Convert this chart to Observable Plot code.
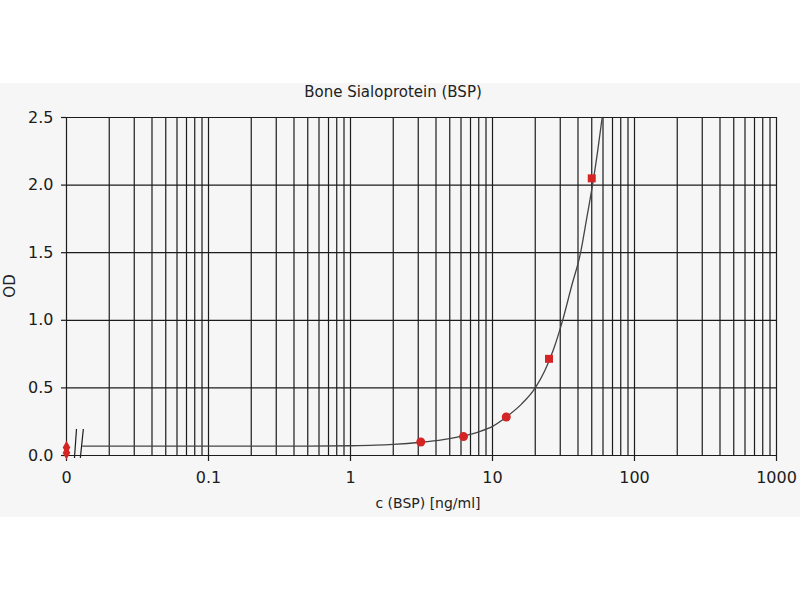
<!DOCTYPE html>
<html>
<head>
<meta charset="utf-8">
<script src="https://cdn.jsdelivr.net/npm/d3@7"></script>
<script src="https://cdn.jsdelivr.net/npm/@observablehq/plot@0.6"></script>
<style>
  body { margin: 0; background: #fff; font-family: "DejaVu Sans", sans-serif; color: #222; }
  #panel { position: relative; margin-top: 83px; width: 800px; height: 434px; background: #f6f6f6; }
  #title { position: absolute; top: 0px; left: 393px; transform: translateX(-50%); font-size: 15px; white-space: nowrap; }
  #xlabel { position: absolute; top: 412px; left: 428px; transform: translateX(-50%); font-size: 14px; white-space: nowrap; }
  #ylabel { position: absolute; top: 203px; left: 10px; transform: translate(-50%, -50%) rotate(-90deg); font-size: 15px; }
  #chart { position: absolute; top: 0; left: 0; }
</style>
</head>
<body>
<div id="panel">
  <div id="chart"></div>
  <div id="title">Bone Sialoprotein (BSP)</div>
  <div id="xlabel">c (BSP) [ng/ml]</div>
  <div id="ylabel">OD</div>
</div>
<script>
// standards (the "0" standard sits at the left edge of the log axis, 0.01)
const zeroPos = 0.01
const zeroOD = [0.06, 0.02]
const stdConc = [3.125, 6.25, 12.5, 25, 50]
const stdOD = [0.10, 0.14, 0.285, 0.715, 2.05]
const stdShape = ["circle", "circle", "circle", "square", "square"]

// fitted curve
const curveConc = [0.013, 0.05, 0.2, 0.5, 1, 1.5, 2, 3.125, 4.5, 6.25, 8, 10, 12.5, 16, 20, 23.3, 27, 31, 36, 41.7, 46, 50.6, 55, 59.2]
const curveOD = [0.07, 0.07, 0.07, 0.07, 0.072, 0.076, 0.082, 0.098, 0.118, 0.145, 0.175, 0.215, 0.285, 0.38, 0.5, 0.625, 0.79, 0.99, 1.25, 1.5, 1.75, 2.0, 2.25, 2.5]

// axes
const xTickValues = [0.01, 0.1, 1, 10, 100, 1000]
const xTickLabels = ["0", "0.1", "1", "10", "100", "1000"]
const xGrid = [
  0.01, 0.02, 0.03, 0.04, 0.05, 0.06, 0.07, 0.08, 0.09,
  0.1, 0.2, 0.3, 0.4, 0.5, 0.6, 0.7, 0.8, 0.9,
  1, 2, 3, 4, 5, 6, 7, 8, 9,
  10, 20, 30, 40, 50, 60, 70, 80, 90,
  100, 200, 300, 400, 500, 600, 700, 800, 900, 1000
]
const yTicks = [0, 0.5, 1, 1.5, 2, 2.5]

// the "//" break on the x axis
const axisBreak = [
  {x1: 0.01138, y1: -0.018, x2: 0.01176, y2: 0.196},
  {x1: 0.01252, y1: -0.018, x2: 0.01314, y2: 0.196}
]

const curve = curveConc.map((c, i) => ({c: c, od: curveOD[i]}))
const stds = stdConc.map((c, i) => ({c: c, od: stdOD[i], shape: stdShape[i]}))
const zeros = zeroOD.map(od => ({c: zeroPos, od: od}))

const red = "#d42424"
const ink = "#1c1c1c"

let chart = Plot.plot({
  width: 800,
  height: 434,
  marginTop: 34,
  marginBottom: 62,
  marginLeft: 66,
  marginRight: 24,
  style: {
    background: "transparent",
    fontFamily: "DejaVu Sans",
    fontSize: "16px",
    color: ink,
  },
  x: {type: "log", domain: [0.01, 1000]},
  y: {domain: [0, 2.5]},
  marks: [
    Plot.gridX(xGrid, {stroke: ink, strokeOpacity: 1, strokeWidth: 1.2}),
    Plot.gridY(yTicks, {stroke: ink, strokeOpacity: 1, strokeWidth: 1.2}),
    Plot.axisX(xTickValues, {
      tickFormat: d => xTickLabels[xTickValues.indexOf(d)],
      tickSize: 6,
      tickPadding: 10,
      label: null,
      stroke: ink,
      strokeWidth: 1.2,
    }),
    Plot.axisY(yTicks, {
      tickFormat: d3.format(".1f"),
      tickSize: 5,
      tickPadding: 8,
      label: null,
      stroke: ink,
      strokeWidth: 1.2,
    }),
    Plot.link(axisBreak, {x1: "x1", y1: "y1", x2: "x2", y2: "y2", stroke: ink, strokeWidth: 1.2}),
    Plot.line(curve, {x: "c", y: "od", stroke: "#444", strokeWidth: 1.3, curve: "monotone-x"}),
    Plot.dot(zeros, {x: "c", y: "od", r: 4, fill: red, symbol: "diamond"}),
    Plot.dot(stds.filter(d => d.shape == "circle"), {x: "c", y: "od", r: 4.5, fill: red}),
    Plot.dot(stds.filter(d => d.shape == "square"), {x: "c", y: "od", r: 4.5, fill: red, symbol: "square"}),
  ],
})

d3.select('#chart').append(() => chart)
</script>
</body>
</html>
